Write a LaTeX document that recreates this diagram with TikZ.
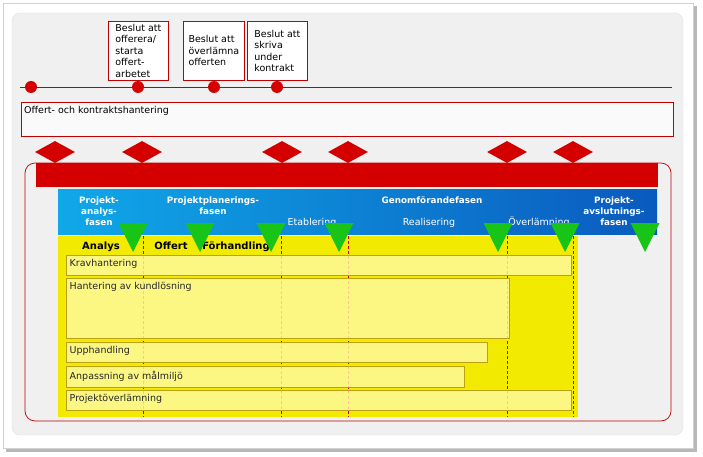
\documentclass[tikz,border=0pt]{standalone}
\usepackage{fontspec}
\setmainfont{DejaVu Sans}
\usetikzlibrary{shapes.geometric}
\definecolor{sbred}{RGB}{212,0,0}
\definecolor{sbdark}{RGB}{190,0,0}
\definecolor{sbgray}{RGB}{240,240,240}
\definecolor{sbsky}{RGB}{16,168,232}
\definecolor{sbblue}{RGB}{10,90,190}
\definecolor{sbyellow}{RGB}{242,234,0}
\definecolor{sbpale}{RGB}{255,250,160}
\definecolor{sbolive}{RGB}{190,160,20}
\definecolor{sbgreen}{RGB}{24,196,24}
\begin{document}
\begin{tikzpicture}[
x=1pt,y=-1pt,
every node/.style={font=\fontsize{9.5}{11.5}\selectfont,inner sep=0pt},
beslutruta/.style={draw=sbdark,fill=white,line width=0.8pt,minimum width=60,minimum height=59,align=left,anchor=north west},
ram/.style={draw=sbdark,fill=white!98!black,line width=0.8pt,anchor=north west},
prick/.style={circle,fill=sbred,minimum size=12},
romb/.style={diamond,fill=sbred,minimum width=40,minimum height=22},
stapel/.style={draw=sbolive,fill=sbpale,fill opacity=0.82,line width=0.7pt,anchor=north west},
stapeltext/.style={anchor=north west,inner xsep=3.5pt,inner ysep=4.5pt,text=black!85},
fasnamn/.style={text=white,font=\fontsize{8.8}{11}\selectfont\bfseries,align=center},
delfas/.style={text=white,anchor=base},
rubrik/.style={font=\fontsize{10}{12}\selectfont\bfseries,anchor=base},
triangel/.style={fill=sbgreen},
delning/.style={sbred,dash pattern=on 3pt off 2pt,line width=0.7pt}
]
\useasboundingbox (0,0) rectangle (703,457);
\fill[black!28] (6,6) rectangle (697,452);
\draw[black!18,fill=white] (3,3) rectangle (693,448);
\draw[black!12,fill=sbgray,rounded corners=8] (12,13) rectangle (683,435);

\coordinate (tstart) at (20,87);
\coordinate (tslut) at (672,87);
\draw[sbdark,line width=0.9pt] (tstart) -- (tslut);
\foreach \x [count=\i] in {31,138,214,277}
  \node[prick] (prick\i) at (\x,87) {};

\node[beslutruta] (beslut1) at (108,21) {Beslut att\\offerera/\\starta\\offert-\\arbetet};
\node[beslutruta,minimum width=61] (beslut2) at (183,21) {Beslut att\\överlämna\\offerten};
\node[beslutruta] (beslut3) at (247,21) {Beslut att\\skriva\\under\\kontrakt};

\node[ram,minimum width=652,minimum height=34] (omrade) at (21,102) {};
\node[anchor=north west,inner xsep=3pt,inner ysep=4pt] (omradetext) at (omrade.north west) {Offert- och kontraktshantering};

\draw[sbdark,line width=0.7pt,rounded corners=10] (25,163) rectangle (671,421);
\foreach \x [count=\i] in {55,142,282,348,507,573}
  \node[romb] (romb\i) at (\x,152) {};
\node[fill=sbred,anchor=north west,minimum width=622,minimum height=24] (rodbalk) at (36,163) {};
\node[anchor=north west,minimum width=599,minimum height=45,shading=axis,left color=sbsky,right color=sbblue] (faser) at (58,189) {};
\node[fill=sbyellow,anchor=north west,minimum width=520,minimum height=181] (gul) at (58,236) {};

\foreach \x in {143,281,348,507,573}
  \draw[delning] (\x,236) -- (\x,417);

\node[stapel,minimum width=505,minimum height=20] (krav) at (66,255) {};
\node[stapel,minimum width=443,minimum height=60] (kund) at (66,278) {};
\node[stapel,minimum width=421,minimum height=20] (upph) at (66,342) {};
\node[stapel,minimum width=398,minimum height=21] (anpass) at (66,366) {};
\node[stapel,minimum width=505,minimum height=20] (overlamn) at (66,390) {};
\node[stapeltext] (kravtext) at (krav.north west) {Kravhantering};
\node[stapeltext] (kundtext) at (kund.north west) {Hantering av kundlösning};
\node[stapeltext] (upphtext) at (upph.north west) {Upphandling};
\node[stapeltext] (anpasstext) at (anpass.north west) {Anpassning av målmiljö};
\node[stapeltext] (overlamntext) at (overlamn.north west) {Projektöverlämning};

\node[rubrik] (analys) at (101,249) {Analys};
\node[rubrik] (offert) at (171,249) {Offert};
\node[rubrik] (forhandling) at (236,249) {Förhandling};

\node[fasnamn,anchor=north] (analysfas) at (99,196.5) {Projekt-\\analys-\\fasen};
\node[fasnamn,anchor=north] (planfas) at (213,196.5) {Projektplanerings-\\fasen};
\node[fasnamn,anchor=base] (genomfas) at (432,203) {Genomförandefasen};
\node[fasnamn,anchor=north] (avslfas) at (614,196.5) {Projekt-\\avslutnings-\\fasen};
\node[delfas] (etablering) at (312,225) {Etablering};
\node[delfas] (realisering) at (429,225) {Realisering};
\node[delfas] (overlamning) at (539,225) {Överlämning};

\foreach \x in {133,200,271,339,498,565,645}
  \fill[triangel] (\x-14.5,223) -- (\x+14.5,223) -- (\x,252) -- cycle;
\end{tikzpicture}
\end{document}
